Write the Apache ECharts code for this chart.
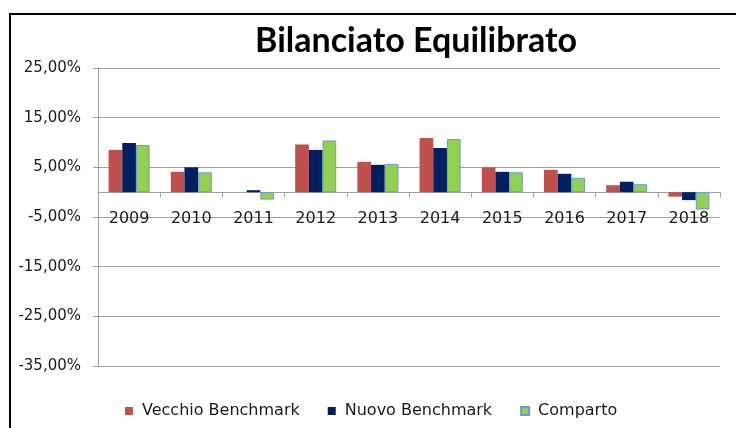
<!DOCTYPE html>
<html><head><meta charset="utf-8">
<script src="https://cdn.jsdelivr.net/npm/echarts@6/dist/echarts.min.js"></script>
<style>html,body{margin:0;padding:0;background:#fff}#c{width:736px;height:428px}</style>
</head><body><div id="c"></div>
<script>
const years = ['2009','2010','2011','2012','2013','2014','2015','2016','2017','2018'];
const vecchio = [8.5, 4.1, 0.0, 9.6, 6.1, 10.9, 5.0, 4.5, 1.4, -0.9];
const nuovo = [9.9, 5.0, 0.4, 8.5, 5.5, 8.9, 4.1, 3.7, 2.1, -1.6];
const comparto = [9.5, 4.0, -1.5, 10.4, 5.7, 10.7, 4.0, 2.9, 1.6, -3.5];
const seriesNames = ['Vecchio Benchmark', 'Nuovo Benchmark', 'Comparto'];
const FONT = 'DejaVu Sans';
const TXT = '#1a1a1a';
const chart = echarts.init(document.getElementById('c'));
chart.setOption({
  animation: false,
  backgroundColor: '#fff',
  title: { text: 'Bilanciato Equilibrato', left: 411, top: 19, textAlign: 'center',
    textStyle: { fontFamily: 'Lato', fontWeight: 'bold', fontSize: 34, color: '#000' } },
  graphic: [{ type: 'rect', shape: { x: 10, y: 14, width: 740, height: 430 },
    style: { fill: 'none', stroke: '#000', lineWidth: 2 }, silent: true }],
  legend: { top: 398, left: 120, itemWidth: 8, itemHeight: 8, itemGap: 28,
    icon: 'rect', textStyle: { fontFamily: FONT, fontSize: 16, color: TXT, padding: [0, 0, 0, 4] },
    data: seriesNames },
  grid: { left: 98, right: 16, top: 68, bottom: 62 },
  xAxis: [
    { type: 'category', data: years,
      axisLine: { onZero: true, lineStyle: { color: '#a0a0a0', width: 1 } },
      axisTick: { show: true, length: 5, lineStyle: { color: '#a0a0a0' } },
      axisLabel: { show: false } },
    { type: 'category', data: years, position: 'bottom',
      axisLine: { show: false, onZero: false },
      axisTick: { show: false },
      axisLabel: { fontFamily: FONT, fontSize: 16, color: TXT, margin: -155 } }
  ],
  yAxis: { type: 'value', min: -35, max: 25, interval: 10,
    axisLine: { show: true, lineStyle: { color: '#a0a0a0' } },
    axisTick: { show: true, length: 5, lineStyle: { color: '#a0a0a0' } },
    splitLine: { lineStyle: { color: '#a0a0a0' } },
    axisLabel: { fontFamily: FONT, fontSize: 15, color: TXT, margin: 17,
      formatter: v => v.toFixed(2).replace('.', ',') + '%' } },
  series: [
    { name: seriesNames[0], type: 'bar', data: vecchio, barGap: '0%', barCategoryGap: '34%',
      itemStyle: { color: '#C0504D' } },
    { name: seriesNames[1], type: 'bar', data: nuovo, itemStyle: { color: '#002060' } },
    { name: seriesNames[2], type: 'bar', data: comparto,
      itemStyle: { color: '#92D050', borderColor: '#6C9BD2', borderWidth: 1 } }
  ]
});
</script></body></html>
